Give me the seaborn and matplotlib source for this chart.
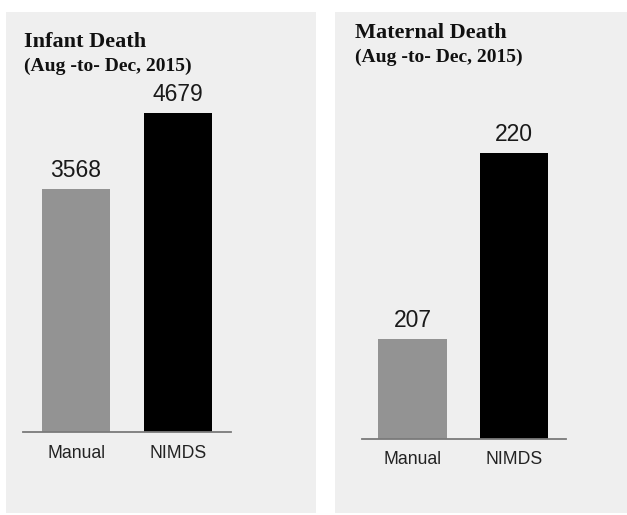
import matplotlib
matplotlib.use("Agg")
import matplotlib.pyplot as plt
from matplotlib.patches import Rectangle
import seaborn as sns
import pandas as pd

categories = ["Manual", "NIMDS"]
infant_values = [3568, 4679]
maternal_values = [207, 220]
bar_colors = ["#939393", "#000000"]
titles = ["Infant Death", "Maternal Death"]
subtitle = "(Aug -to- Dec, 2015)"

sns.set_style("white")
plt.rcParams["font.family"] = ["Liberation Sans", "DejaVu Sans"]

W, H = 627, 515
fig = plt.figure(figsize=(W / 100, H / 100), dpi=100)
fig.patch.set_facecolor("white")

def px_rect(x0, y0, x1, y1):
    return [x0 / W, 1 - y1 / H, (x1 - x0) / W, (y1 - y0) / H]

# panel backgrounds
for (x0, y0, x1, y1) in [(6, 12, 316, 513), (335, 12, 627, 513)]:
    fig.patches.append(Rectangle((x0 / W, 1 - y1 / H), (x1 - x0) / W, (y1 - y0) / H,
                                 transform=fig.transFigure, facecolor="#efefef",
                                 edgecolor="none", zorder=-10))

panels = [
    dict(vals=infant_values, rect=px_rect(23, 100, 231, 432), xlim=(-0.52, 1.52),
         ylim=(0, 4870), width=0.667, title_xy=(24, 47), sub_y=71),
    dict(vals=maternal_values, rect=px_rect(362, 140, 566, 439), xlim=(-0.4975, 1.512),
         ylim=(200, 220.9), width=0.675, title_xy=(355, 38), sub_y=62),
]

for p, title in zip(panels, titles):
    ax = fig.add_axes(p["rect"])
    ax.set_zorder(5)
    ax.set_facecolor("none")
    df = pd.DataFrame({"cat": categories, "val": p["vals"]})
    sns.barplot(data=df, x="cat", y="val", hue="cat", palette=bar_colors,
                legend=False, width=p["width"], ax=ax, saturation=1,
                edgecolor="none", linewidth=0)
    ax.set_xlim(*p["xlim"])
    ax.set_ylim(*p["ylim"])
    for s in ["top", "left", "right"]:
        ax.spines[s].set_visible(False)
    ax.spines["bottom"].set_color("#7a7a7a")
    ax.spines["bottom"].set_linewidth(1.3)
    ax.spines["bottom"].set_zorder(10)
    ax.set_yticks([])
    ax.set_xlabel("")
    ax.set_ylabel("")
    ax.tick_params(axis="x", length=0, pad=9, labelsize=12.7, labelcolor="#222222")
    for i, v in enumerate(p["vals"]):
        ax.annotate(str(v), xy=(i, v), xytext=(0, 8.5), textcoords="offset points",
                    ha="center", va="baseline", fontsize=16.5, color="#1a1a1a",
                    annotation_clip=False)
    tx, ty = p["title_xy"]
    fig.text(tx / W, 1 - ty / H, title, family=["Liberation Serif", "DejaVu Serif"],
             fontweight="bold", fontsize=16, va="baseline", ha="left", color="#111111")
    fig.text(tx / W, 1 - p["sub_y"] / H, subtitle, family=["Liberation Serif", "DejaVu Serif"],
             fontweight="bold", fontsize=14, va="baseline", ha="left", color="#111111")

fig.savefig("out.png", dpi=100, facecolor="white")
